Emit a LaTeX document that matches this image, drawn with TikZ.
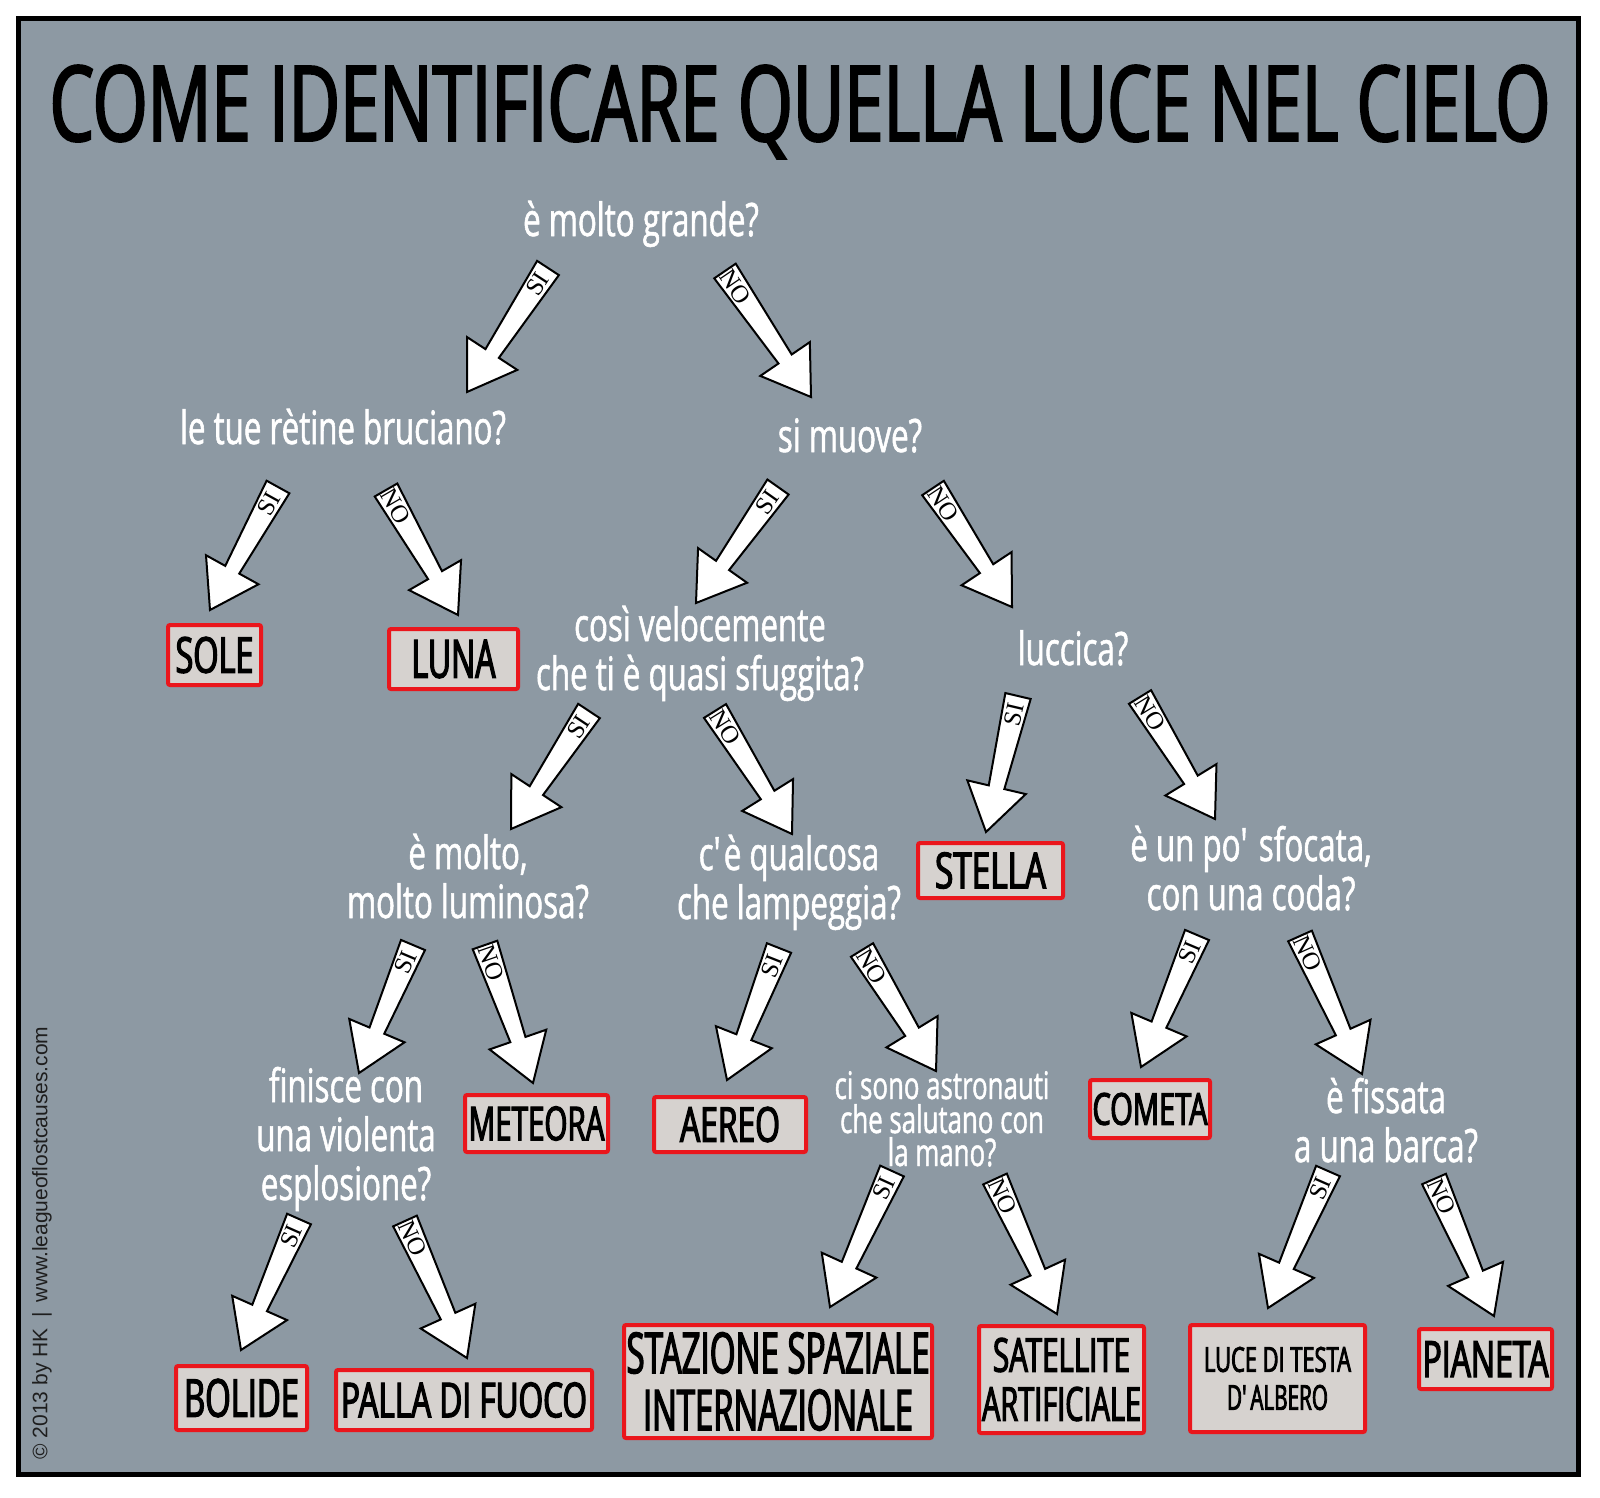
\documentclass[tikz,border=0pt]{standalone}
\usepackage{fontspec}
\usepackage{graphicx}
\usetikzlibrary{calc}
\newfontfamily\qfont{Open Sans}[FakeStretch=0.68, FakeBold=1.2]
\newfontfamily\bxfont{Open Sans}[FakeStretch=0.55, FakeBold=2.2]
\newfontfamily\ttlfont{Open Sans}[FakeStretch=0.55, FakeBold=1.8]
\newfontfamily\cpfont{Liberation Sans}
\newfontfamily\lblfont{Liberation Serif}
\definecolor{bgc}{RGB}{141,153,163}
\definecolor{boxfill}{RGB}{214,210,207}
\definecolor{boxred}{RGB}{234,22,28}
\definecolor{cpc}{RGB}{30,30,30}
\newcommand{\fitl}[3]{\resizebox{#1pt}{#2pt}{\bxfont #3}}
\newcommand{\apo}{\textquotesingle}
\newcommand{\blockarrow}[3]{%
  \coordinate (#1n) at ($(#2)!23pt!(#1)$);
  \draw[barrowstyle] ($(#1)!6.5pt!90:(#2)$) -- ($(#1n)!4pt!90:(#2)$) -- ($(#1n)!15pt!90:(#2)$) -- (#2)
     -- ($(#1n)!15pt!-90:(#2)$) -- ($(#1n)!4pt!-90:(#2)$) -- ($(#1)!6.5pt!-90:(#2)$) -- cycle;
  \path ($(#1)!9.5pt!(#2)$) -- (#2) node[pos=0, sloped, arrlabel] {#3};
}
\begin{document}
\begin{tikzpicture}[x=0.5pt, y=-0.5pt,
  barrowstyle/.style={draw=black, fill=white, line width=1pt, line join=miter},
  arrlabel/.style={font=\lblfont\fontsize{12.5}{12.5}\selectfont, inner sep=0pt, text=black},
  qtext/.style={text=white, font=\qfont\fontsize{23}{24.5}\selectfont, anchor=base, inner sep=0pt},
  qsmall/.style={text=white, font=\qfont\fontsize{19}{19}\selectfont, anchor=base, inner sep=0pt},
  answer/.style={draw=boxred, line width=2pt, fill=boxfill, rounded corners=1pt, inner sep=0pt, text=black, align=center},
]
\useasboundingbox (0,0) rectangle (1600,1498);
\fill[white] (0,0) rectangle (1600,1498);
\draw[fill=bgc, line width=2.5pt] (18.5,19) rectangle (1578.5,1474);

% title
\node[anchor=base, inner sep=0pt] (title) at (800,141)
  {\resizebox{750pt}{38pt}{\ttlfont COME IDENTIFICARE QUELLA LUCE NEL CIELO}};

% copyright
\node[rotate=90, inner sep=0pt, text=cpc, font=\cpfont\fontsize{10.5}{12}\selectfont] (copy) at (42,1243)
  {\textcopyright{} 2013 by HK\hspace{0.5em}|\hspace{0.5em}www.leagueoflostcauses.com};

% questions
\node[qtext] (q1) at (641,236) {è molto grande?};
\node[qtext] (q2) at (343,444) {le tue rètine bruciano?};
\node[qtext] (q3) at (850,452) {si muove?};
\node[qtext] (q4a) at (700,641) {così velocemente};
\node[qtext] (q4b) at (700,690) {che ti è quasi sfuggita?};
\node[qtext] (q5) at (1073,665) {luccica?};
\node[qtext] (q6a) at (468,869) {è molto,};
\node[qtext] (q6b) at (468,918) {molto luminosa?};
\node[qtext] (q7a) at (789,870) {c\apo è qualcosa};
\node[qtext] (q7b) at (789,919) {che lampeggia?};
\node[qtext] (q8a) at (1251,861) {è un po\apo{} sfocata,};
\node[qtext] (q8b) at (1251,910) {con una coda?};
\node[qtext] (q9a) at (346,1102) {finisce con};
\node[qtext] (q9b) at (346,1151) {una violenta};
\node[qtext] (q9c) at (346,1200) {esplosione?};
\node[qsmall] (q10a) at (942,1099) {ci sono astronauti};
\node[qsmall] (q10b) at (942,1133) {che salutano con};
\node[qsmall] (q10c) at (942,1166) {la mano?};
\node[qtext] (q11a) at (1386,1113) {è fissata};
\node[qtext] (q11b) at (1386,1162) {a una barca?};

% answers
\node[answer, minimum width=46.5pt, minimum height=30pt] (sole) at (214.5,655) {\fitl{39}{18}{SOLE}};
\node[answer, minimum width=64.5pt, minimum height=30pt] (luna) at (453.5,659) {\fitl{42}{19}{LUNA}};
\node[answer, minimum width=72.5pt, minimum height=27.5pt] (stella) at (990.5,870.5) {\fitl{55.5}{18}{STELLA}};
\node[answer, minimum width=71.5pt, minimum height=28.5pt] (meteora) at (536.5,1123.5) {\fitl{68}{17}{METEORA}};
\node[answer, minimum width=76pt, minimum height=27.5pt] (aereo) at (730,1124.5) {\fitl{50}{17.5}{AEREO}};
\node[answer, minimum width=60pt, minimum height=29pt] (cometa) at (1150,1109) {\fitl{57.5}{16}{COMETA}};
\node[answer, minimum width=65.5pt, minimum height=32pt] (bolide) at (241.5,1398) {\fitl{57.5}{19}{BOLIDE}};
\node[answer, minimum width=128pt, minimum height=30pt] (palla) at (464,1400) {\fitl{123}{17.5}{PALLA DI FUOCO}};
\node[answer, minimum width=154pt, minimum height=56.5pt, font=\fontsize{10}{28.5}\selectfont] (iss) at (778,1381.5)
  {\fitl{151.5}{20.5}{STAZIONE SPAZIALE}\\\fitl{135}{20.5}{INTERNAZIONALE}};
\node[answer, minimum width=82.5pt, minimum height=53.5pt, font=\fontsize{10}{24.5}\selectfont] (sat) at (1061.5,1379.5)
  {\fitl{68.5}{17}{SATELLITE}\\\fitl{79.5}{17}{ARTIFICIALE}};
\node[answer, minimum width=87.5pt, minimum height=53.5pt, font=\fontsize{10}{19}\selectfont] (luce) at (1277.5,1378.5)
  {\fitl{73.5}{12.5}{LUCE DI TESTA}\\\fitl{50.5}{12.5}{D\apo ALBERO}};
\node[answer, minimum width=66.5pt, minimum height=30pt] (pianeta) at (1485.5,1359) {\fitl{63}{18}{PIANETA}};

% arrow end points
\coordinate (a1s) at (548,268);   \coordinate (a1e) at (467,392);
\coordinate (a2s) at (725,271);   \coordinate (a2e) at (811,397);
\coordinate (a3s) at (278,487);   \coordinate (a3e) at (210,610);
\coordinate (a4s) at (386,490);   \coordinate (a4e) at (458,615);
\coordinate (a5s) at (778,487);   \coordinate (a5e) at (696,603);
\coordinate (a6s) at (933,488);   \coordinate (a6e) at (1012,607);
\coordinate (a7s) at (589,711);   \coordinate (a7e) at (511,829);
\coordinate (a8s) at (715,711);   \coordinate (a8e) at (792,834);
\coordinate (a9s) at (1018,696);  \coordinate (a9e) at (986,832);
\coordinate (a10s) at (1140,697); \coordinate (a10e) at (1215,819);
\coordinate (a11s) at (413,945);  \coordinate (a11e) at (359,1073);
\coordinate (a12s) at (485,945);  \coordinate (a12e) at (533,1083);
\coordinate (a13s) at (779,948);  \coordinate (a13e) at (727,1080);
\coordinate (a14s) at (862,950);  \coordinate (a14e) at (936,1071);
\coordinate (a15s) at (1197,935); \coordinate (a15e) at (1141,1067);
\coordinate (a16s) at (1300,936); \coordinate (a16e) at (1362,1074);
\coordinate (a17s) at (299,1219); \coordinate (a17e) at (241,1350);
\coordinate (a18s) at (405,1221); \coordinate (a18e) at (467,1358);
\coordinate (a19s) at (892,1171); \coordinate (a19e) at (830,1307);
\coordinate (a20s) at (995,1179); \coordinate (a20e) at (1057,1314);
\coordinate (a21s) at (1328,1171);\coordinate (a21e) at (1268,1308);
\coordinate (a22s) at (1434,1179);\coordinate (a22e) at (1494,1316);

\blockarrow{a1s}{a1e}{SI}
\blockarrow{a2s}{a2e}{NO}
\blockarrow{a3s}{a3e}{SI}
\blockarrow{a4s}{a4e}{NO}
\blockarrow{a5s}{a5e}{SI}
\blockarrow{a6s}{a6e}{NO}
\blockarrow{a7s}{a7e}{SI}
\blockarrow{a8s}{a8e}{NO}
\blockarrow{a9s}{a9e}{SI}
\blockarrow{a10s}{a10e}{NO}
\blockarrow{a11s}{a11e}{SI}
\blockarrow{a12s}{a12e}{NO}
\blockarrow{a13s}{a13e}{SI}
\blockarrow{a14s}{a14e}{NO}
\blockarrow{a15s}{a15e}{SI}
\blockarrow{a16s}{a16e}{NO}
\blockarrow{a17s}{a17e}{SI}
\blockarrow{a18s}{a18e}{NO}
\blockarrow{a19s}{a19e}{SI}
\blockarrow{a20s}{a20e}{NO}
\blockarrow{a21s}{a21e}{SI}
\blockarrow{a22s}{a22e}{NO}
\end{tikzpicture}
\end{document}
